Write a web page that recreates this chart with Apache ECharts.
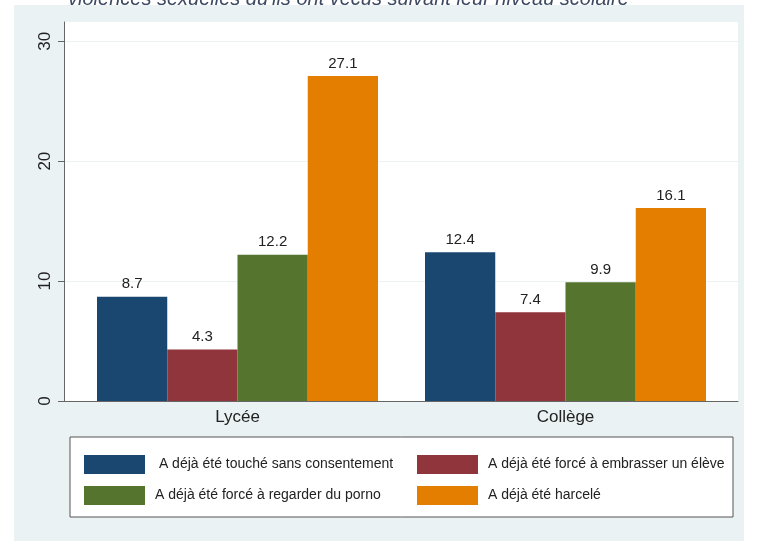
<!DOCTYPE html>
<html>
<head>
<meta charset="utf-8">
<script src="https://cdn.jsdelivr.net/npm/echarts@6/dist/echarts.min.js"></script>
<style>html,body{margin:0;padding:0;background:#fff}#c{width:761px;height:541px}</style>
</head>
<body>
<div id="c"></div>
<script>
const titleText = "violences sexuelles qu'ils ont vécus suivant leur niveau scolaire";
const categories = ['Lycée', 'Collège'];
const seriesNames = [
  ' A déjà été touché sans consentement',
  'A déjà été forcé à embrasser un élève',
  'A déjà été forcé à regarder du porno',
  'A déjà été harcelé'
];
const touche = [8.7, 12.4];
const embrasser = [4.3, 7.4];
const porno = [12.2, 9.9];
const harcele = [27.1, 16.1];
const yTicks = [0, 10, 20, 30];
const colors = ['#1a476f', '#90353b', '#55752f', '#e37e00'];

const values = [touche, embrasser, porno, harcele];
const chart = echarts.init(document.getElementById('c'), null, {renderer: 'canvas'});
const FONT = 'Liberation Sans, Arial, sans-serif';
const YMAX = 31.6;

const option = {
  animation: false,
  backgroundColor: '#ffffff',
  color: colors,
  graphic: [
    {type: 'text', x: 68, y: -1, z: 0, style: {text: titleText, font: 'italic 20px "Liberation Sans", Arial, sans-serif', fill: '#3d4a63', verticalAlign: 'middle'}},
    {type: 'rect', z: 1, shape: {x: 14, y: 5, width: 730, height: 536}, style: {fill: '#eaf2f3'}},
    {type: 'rect', z: 5, shape: {x: 70, y: 437, width: 663, height: 80}, style: {fill: '#ffffff', stroke: '#555', lineWidth: 1}}
  ],
  grid: [
    {left: 64, top: 22, width: 674, height: 379, show: true, backgroundColor: '#ffffff', borderWidth: 0, z: 2},
    {left: 73.5, top: 22, width: 656, height: 379, show: false, z: 2}
  ],
  xAxis: [
    {gridIndex: 0, type: 'category', data: categories, z: 3,
     axisLine: {show: true, lineStyle: {color: '#666', width: 1}},
     axisTick: {show: false}, axisLabel: {show: false}, splitLine: {show: false}},
    {gridIndex: 1, type: 'category', data: categories, z: 3,
     axisLine: {show: false}, axisTick: {show: false},
     axisLabel: {show: true, margin: 8, fontSize: 17, color: '#222', fontFamily: FONT}}
  ],
  yAxis: [
    {gridIndex: 0, type: 'value', min: 0, max: YMAX, interval: 10, z: 3,
     axisLine: {show: true, lineStyle: {color: '#666', width: 1}},
     axisTick: {show: true, length: 6, lineStyle: {color: '#666'}, customValues: yTicks},
     axisLabel: {show: true, rotate: 90, margin: 10, fontSize: 17, color: '#222', fontFamily: FONT, customValues: yTicks},
     splitLine: {show: true, lineStyle: {color: '#eaf2f3', width: 1}}},
    {gridIndex: 1, type: 'value', min: 0, max: YMAX, show: false, splitLine: {show: false}}
  ],
  legend: [
    {orient: 'vertical', left: 84, top: 455, padding: 0, itemGap: 12, itemWidth: 61, itemHeight: 19, icon: 'rect', z: 6,
     data: [seriesNames[0], seriesNames[2]], selectedMode: false,
     textStyle: {fontSize: 14, color: '#222', fontFamily: FONT, padding: [0, 0, 0, 5]}},
    {orient: 'vertical', left: 417, top: 455, padding: 0, itemGap: 12, itemWidth: 61, itemHeight: 19, icon: 'rect', z: 6,
     data: [seriesNames[1], seriesNames[3]], selectedMode: false,
     textStyle: {fontSize: 14, color: '#222', fontFamily: FONT, padding: [0, 0, 0, 5]}}
  ],
  series: seriesNames.map((name, i) => ({
    name: name,
    type: 'bar',
    xAxisIndex: 1,
    yAxisIndex: 1,
    z: 4,
    data: values[i],
    barWidth: 70.25,
    barGap: '0%',
    itemStyle: {color: colors[i]},
    label: {show: true, position: 'top', distance: 5, fontSize: 15, color: '#222', fontFamily: FONT,
            formatter: p => p.value.toFixed(1)}
  }))
};
chart.setOption(option);
</script>
</body>
</html>
